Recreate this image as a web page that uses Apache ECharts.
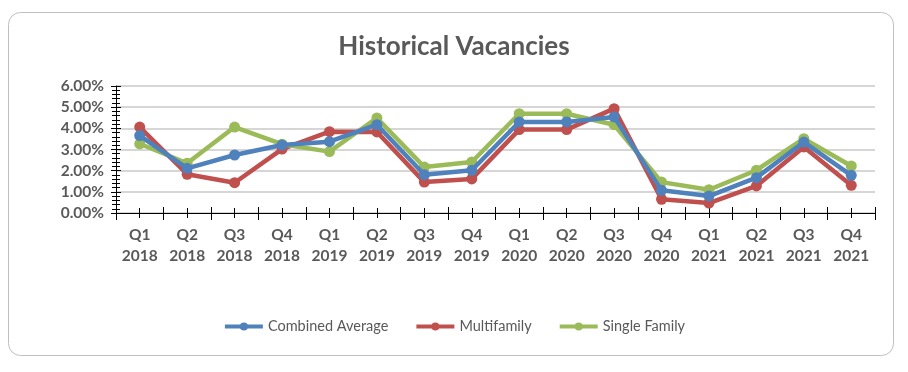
<!DOCTYPE html>
<html><head><meta charset="utf-8">
<script src="https://cdn.jsdelivr.net/npm/echarts@6/dist/echarts.min.js"></script>
<style>html,body{margin:0;padding:0;background:#fff}#c{width:908px;height:372px}</style>
</head><body><div id="c"></div>
<script>
const categories = ['Q1\n2018','Q2\n2018','Q3\n2018','Q4\n2018','Q1\n2019','Q2\n2019','Q3\n2019','Q4\n2019','Q1\n2020','Q2\n2020','Q3\n2020','Q4\n2020','Q1\n2021','Q2\n2021','Q3\n2021','Q4\n2021'];
const combinedAverage = [3.66, 2.11, 2.74, 3.21, 3.37, 4.17, 1.81, 2.02, 4.30, 4.30, 4.54, 1.07, 0.80, 1.67, 3.35, 1.78];
const multifamily     = [4.06, 1.83, 1.43, 3.02, 3.84, 3.83, 1.46, 1.61, 3.94, 3.94, 4.93, 0.65, 0.47, 1.28, 3.12, 1.31];
const singleFamily    = [3.27, 2.35, 4.06, 3.25, 2.90, 4.49, 2.17, 2.41, 4.69, 4.69, 4.17, 1.46, 1.10, 2.02, 3.51, 2.22];
const yTicks = [0, 1, 2, 3, 4, 5, 6];

const chart = echarts.init(document.getElementById('c'));
const font = 'Lato, "Open Sans", sans-serif';
const grid = {left:116, right:33, top:86, bottom:159};
function xa(opts){ return Object.assign({type:'category', data:categories, position:'bottom', axisLabel:{show:false}, axisLine:{show:false}, splitLine:{show:false}}, opts); }
const mk = (name, data, color) => ({
  name, type:'line', data, xAxisIndex:0, yAxisIndex:0,
  symbol:'circle', symbolSize:11, lineStyle:{width:4.5, color}, itemStyle:{color},
  z:name==='Single Family'?3:(name==='Multifamily'?2:4)
});
chart.setOption({
  animation:false,
  graphic:[{type:'rect', shape:{x:8.5, y:12.5, width:885, height:343, r:12}, style:{fill:'none', stroke:'#BFBFBF', lineWidth:1}, z:-1}],
  title:{text:'Historical Vacancies', left:'center', top:29, textStyle:{fontFamily:font, fontWeight:'bold', fontSize:26, color:'#595959'}},
  legend:{bottom:33, left:'center', itemWidth:38, itemHeight:10, itemGap:26,
    lineStyle:{width:4},
    textStyle:{fontFamily:font, fontSize:14.5, color:'#595959'},
    data:['Combined Average','Multifamily','Single Family']},
  grid,
  xAxis:[
    xa({axisLine:{show:true, lineStyle:{color:'#000', width:1}}, axisTick:{show:true, length:7, lineStyle:{color:'#000'}},
        axisLabel:{show:true, interval:0, margin:11, lineHeight:21, fontFamily:font, fontWeight:'bold', fontSize:15.5, color:'#595959'}}),
    xa({axisTick:{show:true, inside:true, length:6, lineStyle:{color:'#000'}}}),
    xa({axisTick:{show:true, alignWithLabel:true, length:5, lineStyle:{color:'#000'}}}),
    xa({axisTick:{show:true, alignWithLabel:true, inside:true, length:5, lineStyle:{color:'#000'}}})
  ],
  yAxis:[
    {type:'value', min:0, max:6, interval:1,
     axisLine:{show:true, lineStyle:{color:'#000'}}, axisTick:{show:true, length:5, lineStyle:{color:'#000'}},
     minorTick:{show:true, splitNumber:5, length:4, lineStyle:{color:'#000'}},
     splitLine:{show:true, lineStyle:{color:'#C8C8C8', width:1.5}},
     axisLabel:{margin:12, fontFamily:font, fontWeight:'bold', fontSize:15.5, color:'#595959', formatter:v=>v.toFixed(2)+'%'}},
    {type:'value', min:0, max:6, interval:1, position:'left',
     axisLine:{show:false}, axisTick:{show:true, inside:true, length:5, lineStyle:{color:'#000'}},
     minorTick:{show:true, splitNumber:5, length:4, lineStyle:{color:'#000'}},
     splitLine:{show:false}, axisLabel:{show:false}}
  ],
  series:[
    mk('Combined Average', combinedAverage, '#4F81BD'),
    mk('Multifamily', multifamily, '#C0504D'),
    mk('Single Family', singleFamily, '#9BBB59')
  ]
});
</script></body></html>
